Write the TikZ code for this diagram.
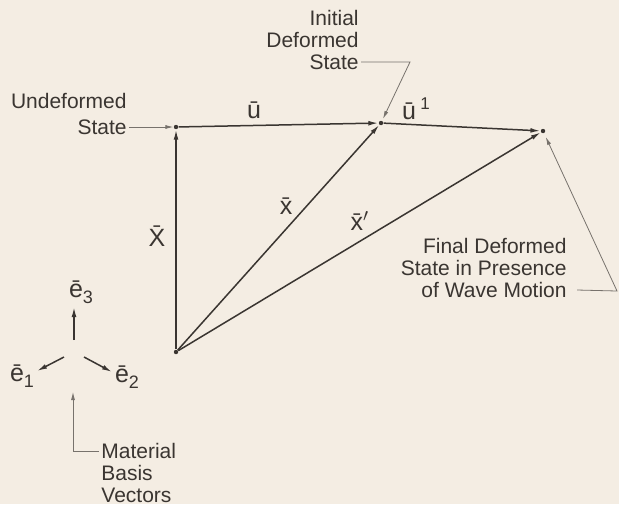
\documentclass[tikz,border=0pt]{standalone}
\usepackage{fontspec}
\setmainfont{Liberation Sans}
\usetikzlibrary{arrows.meta}
\definecolor{paper}{HTML}{F4EDE3}
\definecolor{ink}{HTML}{3A3531}
\definecolor{lead}{HTML}{77726C}
\newcommand{\ebar}[1]{\=e\raisebox{-3pt}{\fontsize{9}{10}\selectfont #1}}
\begin{document}
\begin{tikzpicture}[x=0.5pt,y=-0.5pt,
  vec/.style={draw=ink,line width=0.75pt,-{Latex[length=5pt,width=2.4pt]}},
  leader/.style={draw=lead,line width=0.4pt},
  leadarr/.style={leader,-{Latex[length=4pt,width=2pt]}},
  lbl/.style={font=\fontsize{10.5}{12}\selectfont,text=ink,inner sep=1pt},
  sym/.style={font=\fontsize{12.5}{14}\selectfont,text=ink,inner sep=1pt},
  pt/.style={circle,fill=ink,inner sep=0pt,minimum size=2.2pt}]
\fill[paper] (0,0) rectangle (619,504);
\useasboundingbox (0,0) rectangle (619,504);
\node[pt] (O) at (176,352) {};
\node[pt] (A) at (176,127) {};
\node[pt] (B) at (381,123) {};
\node[pt] (C) at (543,131) {};
\draw[vec] (O) -- (A);
\draw[vec] (A) -- (B);
\draw[vec] (B) -- (C);
\draw[vec] (O) -- (B);
\draw[vec] (O) -- (C);
\node[sym] (uu) at (254,110) {\=u};
\node[sym] (u1) at (416,109) {\=u\,\raisebox{5pt}{\fontsize{8.5}{10}\selectfont 1}};
\node[sym] (XX) at (157,236) {\=X};
\node[sym] (xx) at (286,206) {\=x};
\node[sym] (xp) at (360,221) {\=x$'$};
\node[lbl,anchor=east] (und1) at (129,101) {Undeformed};
\node[lbl,anchor=east] (und2) at (129,127) {State};
\draw[leadarr] (und2.east) -- (A);
\node[lbl,anchor=east] (ini1) at (361,18) {Initial};
\node[lbl,anchor=east] (ini2) at (361,40) {Deformed};
\node[lbl,anchor=east] (ini3) at (361,62) {State};
\coordinate (ik) at (410,62);
\draw[leadarr,shorten >=1pt] (ini3.east) -- (ik) -- (B);
\node[lbl,anchor=east] (fin1) at (569,246) {Final Deformed};
\node[lbl,anchor=east] (fin2) at (569,268) {State in Presence};
\node[lbl,anchor=east] (fin3) at (569,290) {of Wave Motion};
\coordinate (fk) at (617,291);
\draw[leadarr,shorten >=2pt] ([xshift=4pt]fin3.east) -- (fk) -- (C);
\draw[vec] (74,340) -- (74,307);
\draw[vec] (64,357) -- (37,371);
\draw[vec] (84,357) -- (112,372);
\node[sym] (e3) at (81,292) {\ebar{3}};
\node[sym] (e1) at (22,376) {\ebar{1}};
\node[sym] (e2) at (127,377) {\ebar{2}};
\node[lbl,anchor=west] (mat1) at (99,451) {Material};
\node[lbl,anchor=west] (mat2) at (99,473) {Basis};
\node[lbl,anchor=west] (mat3) at (99,495) {Vectors};
\coordinate (eb) at (73,392);
\draw[leadarr] (mat1.west) -| (eb);
\end{tikzpicture}
\end{document}
